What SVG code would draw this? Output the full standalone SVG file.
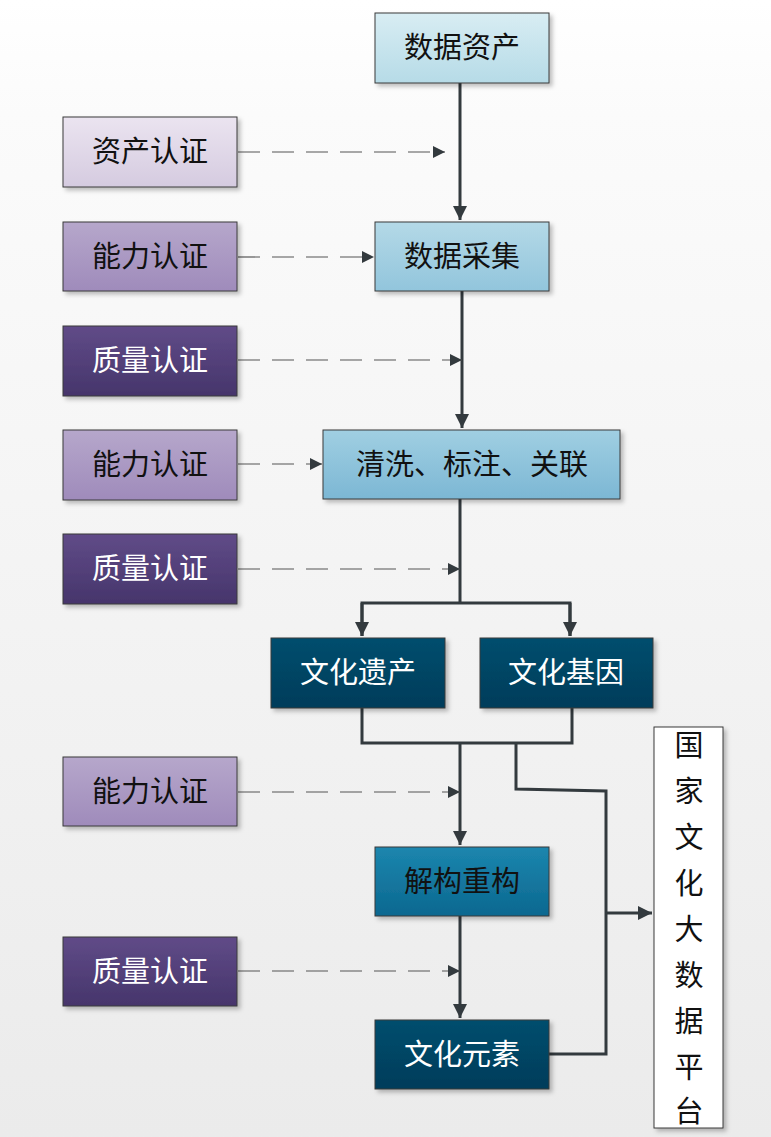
<svg xmlns="http://www.w3.org/2000/svg" width="771" height="1137" viewBox="0 0 771 1137">
<defs>
<linearGradient id="bg" x1="0" y1="0" x2="0" y2="1"><stop offset="0" stop-color="#ffffff"/><stop offset="0.1" stop-color="#fbfbfb"/><stop offset="1" stop-color="#ebebeb"/></linearGradient>
<linearGradient id="b1" x1="0" y1="0" x2="0" y2="1"><stop offset="0" stop-color="#d8edf3"/><stop offset="1" stop-color="#b6dbe7"/></linearGradient>
<linearGradient id="b2" x1="0" y1="0" x2="0" y2="1"><stop offset="0" stop-color="#b4d9e7"/><stop offset="1" stop-color="#92c5dc"/></linearGradient>
<linearGradient id="b3" x1="0" y1="0" x2="0" y2="1"><stop offset="0" stop-color="#a0cfe2"/><stop offset="1" stop-color="#7cb7d4"/></linearGradient>
<linearGradient id="b4" x1="0" y1="0" x2="0" y2="1"><stop offset="0" stop-color="#024e6e"/><stop offset="1" stop-color="#013c5a"/></linearGradient>
<linearGradient id="b5" x1="0" y1="0" x2="0" y2="1"><stop offset="0" stop-color="#1c86ae"/><stop offset="1" stop-color="#0c6890"/></linearGradient>
<linearGradient id="p1" x1="0" y1="0" x2="0" y2="1"><stop offset="0" stop-color="#ebe4f0"/><stop offset="1" stop-color="#d5cbe0"/></linearGradient>
<linearGradient id="p2" x1="0" y1="0" x2="0" y2="1"><stop offset="0" stop-color="#b6a7cb"/><stop offset="1" stop-color="#9f8bbb"/></linearGradient>
<linearGradient id="p3" x1="0" y1="0" x2="0" y2="1"><stop offset="0" stop-color="#604b88"/><stop offset="1" stop-color="#46356b"/></linearGradient>
<filter id="sh" x="-10%" y="-10%" width="130%" height="140%"><feDropShadow dx="3" dy="3" stdDeviation="2" flood-color="#000" flood-opacity="0.25"/></filter>
<marker id="ar" viewBox="0 0 10 10" refX="10" refY="5" markerWidth="5" markerHeight="5" orient="auto" markerUnits="userSpaceOnUse" style="overflow:visible"><path d="M0,0 L10,5 L0,10 z" fill="#333a3e" transform="scale(1.5) translate(-3.3,-1.67)"/></marker>
<marker id="ad" viewBox="0 0 10 10" refX="10" refY="5" markerWidth="14" markerHeight="12" orient="auto" markerUnits="userSpaceOnUse"><path d="M0,0 L10,5 L0,10 z" fill="#333a3e"/></marker>
<marker id="as" viewBox="0 0 10 10" refX="10" refY="5" markerWidth="16" markerHeight="14" orient="auto" markerUnits="userSpaceOnUse"><path d="M0,0 L10,5 L0,10 z" fill="#333a3e"/></marker>
</defs>
<style>
.n rect{stroke:#3a3a3a;stroke-width:1;filter:url(#sh)}
.t{font-family:"Liberation Sans","Noto Sans CJK SC",sans-serif;font-size:29px;text-anchor:middle;dominant-baseline:central}
.w{fill:#ffffff}.k{fill:#111111}
.s{fill:none;stroke:#333a3e;stroke-width:3}
.d{fill:none;stroke:#555;stroke-width:1.2;stroke-dasharray:22,12}
</style>
<rect width="771" height="1137" fill="url(#bg)"/>
<g id="c">
<path class="s" d="M460,83 V220" marker-end="url(#as)"/>
<path class="s" d="M462,291 V428" marker-end="url(#as)"/>
<path class="s" d="M460,499 V603 M362,636 V603 H570 V636"/>
<path class="s" d="M362,603 V636" marker-end="url(#as)"/>
<path class="s" d="M570,603 V636" marker-end="url(#as)"/>
<path class="s" d="M362,708 V743 H572 V708"/>
<path class="s" d="M460,743 V845" marker-end="url(#as)"/>
<path class="s" d="M516,743 V789 L606,791 V1054 H549"/>
<path class="s" d="M606,913 H652" marker-end="url(#as)"/>
<path class="s" d="M460,916 V1018" marker-end="url(#as)"/>
<path class="d" d="M238,152 H445" marker-end="url(#ad)"/>
<path class="d" d="M238,257 H374" marker-end="url(#ad)"/>
<path class="d" d="M238,360 H462" marker-end="url(#ad)"/>
<path class="d" d="M238,464 H322" marker-end="url(#ad)"/>
<path class="d" d="M238,569 H460" marker-end="url(#ad)"/>
<path class="d" d="M238,792 H460" marker-end="url(#ad)"/>
<path class="d" d="M238,971 H460" marker-end="url(#ad)"/>
</g>
<g id="n1" class="n"><rect x="375" y="13" width="174" height="70" fill="url(#b1)"/><text class="t k" x="462" y="48">数据资产</text></g>
<g id="n2" class="n"><rect x="375" y="222" width="174" height="69" fill="url(#b2)"/><text class="t k" x="462" y="257">数据采集</text></g>
<g id="n3" class="n"><rect x="323" y="430" width="297" height="69" fill="url(#b3)"/><text class="t k" x="472" y="465">清洗、标注、关联</text></g>
<g id="n4" class="n"><rect x="271" y="638" width="174" height="70" fill="url(#b4)"/><text class="t w" x="358" y="673">文化遗产</text></g>
<g id="n5" class="n"><rect x="480" y="638" width="173" height="70" fill="url(#b4)"/><text class="t w" x="566" y="673">文化基因</text></g>
<g id="n6" class="n"><rect x="375" y="847" width="174" height="69" fill="url(#b5)"/><text class="t k" x="462" y="882">解构重构</text></g>
<g id="n7" class="n"><rect x="375" y="1020" width="174" height="69" fill="url(#b4)"/><text class="t w" x="462" y="1055">文化元素</text></g>
<g id="n8" class="n"><rect x="654" y="727" width="69" height="401" fill="#ffffff"/>
<text class="t k" x="689"><tspan x="689" y="746">国</tspan><tspan x="689" y="792">家</tspan><tspan x="689" y="838">文</tspan><tspan x="689" y="884">化</tspan><tspan x="689" y="930">大</tspan><tspan x="689" y="976">数</tspan><tspan x="689" y="1022">据</tspan><tspan x="689" y="1068">平</tspan><tspan x="689" y="1112">台</tspan></text></g>
<g id="l1" class="n"><rect x="63" y="117" width="174" height="70" fill="url(#p1)"/><text class="t k" x="150" y="152">资产认证</text></g>
<g id="l2" class="n"><rect x="63" y="222" width="174" height="69" fill="url(#p2)"/><text class="t k" x="150" y="257">能力认证</text></g>
<g id="l3" class="n"><rect x="63" y="326" width="174" height="70" fill="url(#p3)"/><text class="t w" x="150" y="361">质量认证</text></g>
<g id="l4" class="n"><rect x="63" y="430" width="174" height="70" fill="url(#p2)"/><text class="t k" x="150" y="465">能力认证</text></g>
<g id="l5" class="n"><rect x="63" y="534" width="174" height="70" fill="url(#p3)"/><text class="t w" x="150" y="569">质量认证</text></g>
<g id="l6" class="n"><rect x="63" y="757" width="174" height="69" fill="url(#p2)"/><text class="t k" x="150" y="792">能力认证</text></g>
<g id="l7" class="n"><rect x="63" y="937" width="174" height="69" fill="url(#p3)"/><text class="t w" x="150" y="972">质量认证</text></g>
</svg>
